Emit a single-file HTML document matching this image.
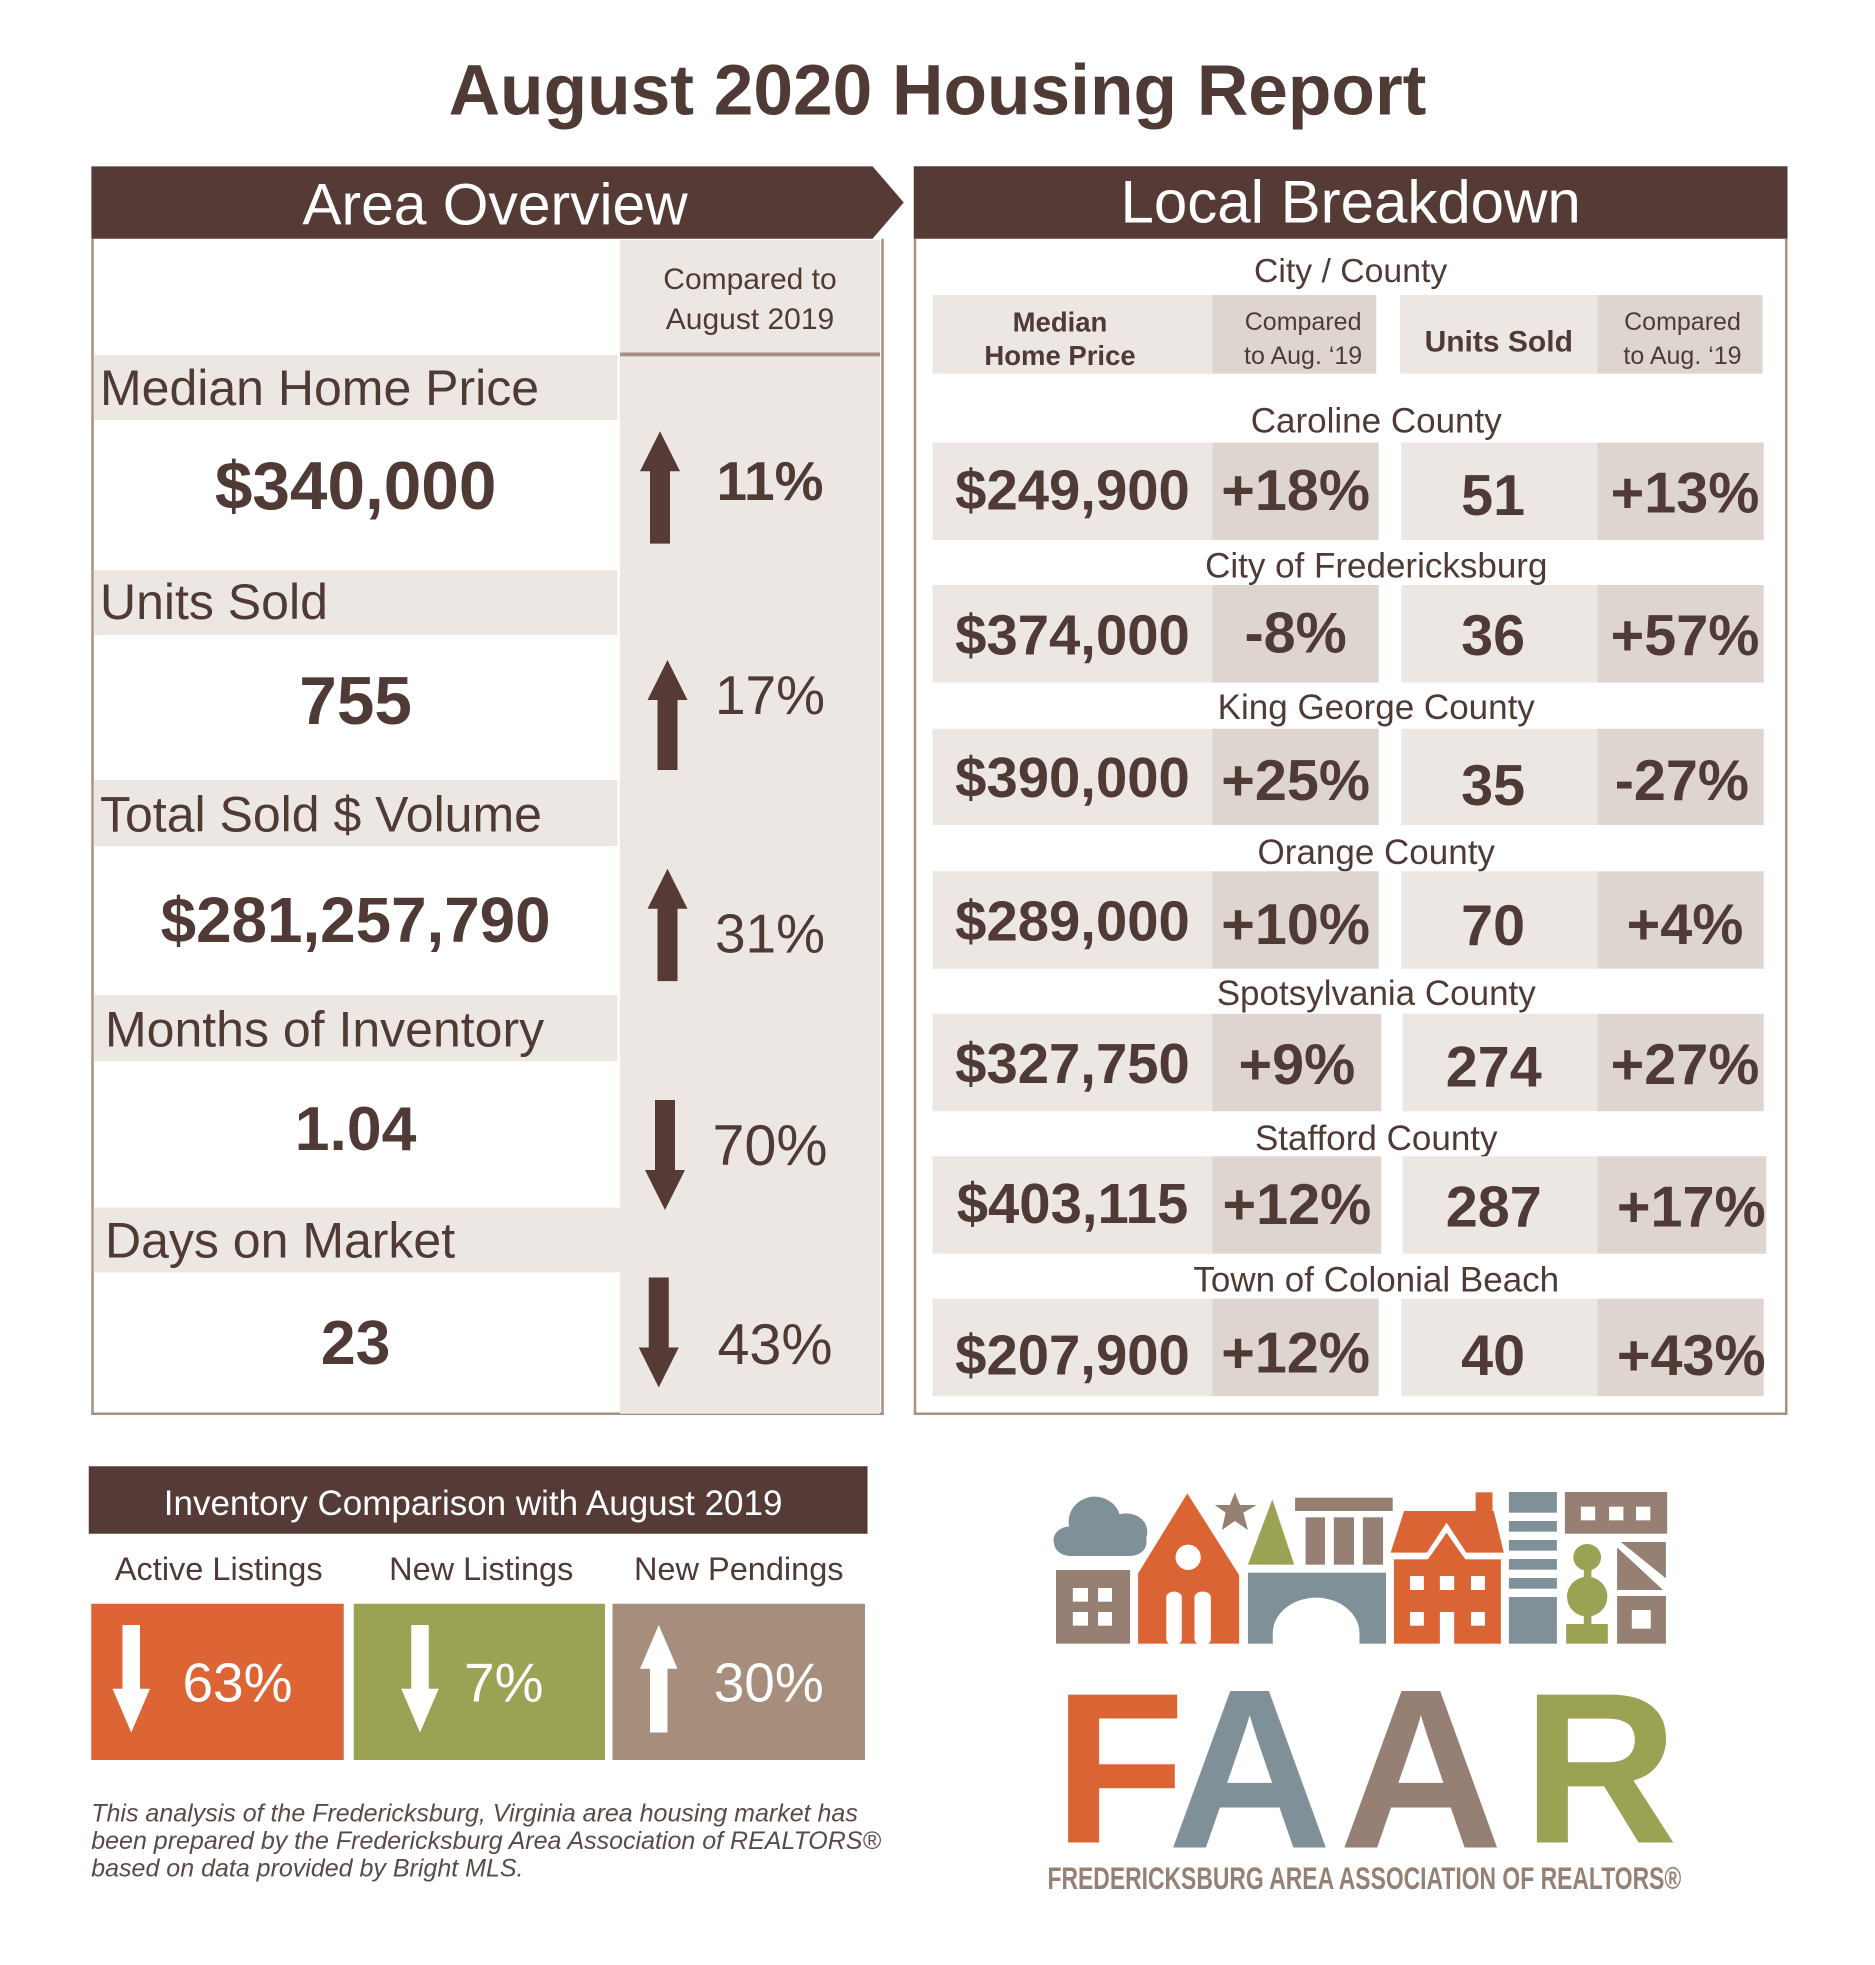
<!DOCTYPE html>
<html><head><meta charset="utf-8"><style>
html,body{margin:0;padding:0;background:#fff;}
body{width:1875px;height:1964px;overflow:hidden;position:relative;}
#w{position:absolute;left:0;top:0;width:1500px;height:1572px;transform:scale(1.25);transform-origin:0 0;font-family:"Liberation Sans",sans-serif;color:#4f3a36;}
#w div{position:absolute;}
.c{text-align:center;line-height:1;white-space:nowrap;transform:translateY(-50%);}
.l{line-height:1;white-space:nowrap;transform:translateY(-50%);}
.b{font-weight:bold;}
.band{background:#ede7e3;}
.dk{background:#dfd5d0;}
</style></head><body><div id="w">

<div class="c b" style="left:0;width:1500px;top:73px;font-size:57px;color:#4f3a36;">August 2020 Housing Report</div>

<!-- Left panel -->
<svg style="position:absolute;left:73px;top:133px" width="652" height="59"><polygon points="0,0 625,0 650,29 625,58 0,58" fill="#553a36"/></svg>
<div class="c" style="left:73px;width:646px;top:163px;font-size:47px;color:#fff;">Area Overview</div>
<div style="left:73px;top:191px;width:630px;height:939px;border:2px solid #a88f80;border-top:none;"></div>
<div class="band" style="left:496px;top:192px;width:208px;height:939px;"></div>
<div style="left:496px;top:282px;width:208px;height:3px;background:#a88f80;"></div>
<div class="c" style="left:496px;width:208px;top:224px;font-size:24px;">Compared to</div>
<div class="c" style="left:496px;width:208px;top:256px;font-size:24px;">August 2019</div>

<div class="band" style="left:75px;top:284px;width:419px;height:52px;"></div>
<div class="l" style="left:80px;top:311px;font-size:40px;">Median Home Price</div>
<div class="c b" style="left:75px;width:419px;top:389px;font-size:54px;">$340,000</div>

<div class="band" style="left:75px;top:456px;width:419px;height:52px;"></div>
<div class="l" style="left:80px;top:482px;font-size:40px;">Units Sold</div>
<div class="c b" style="left:75px;width:419px;top:561px;font-size:54px;">755</div>

<div class="band" style="left:75px;top:624px;width:419px;height:53px;"></div>
<div class="l" style="left:80px;top:652px;font-size:40px;">Total Sold $ Volume</div>
<div class="c b" style="left:75px;width:419px;top:736px;font-size:51px;">$281,257,790</div>

<div class="band" style="left:75px;top:796px;width:419px;height:53px;"></div>
<div class="l" style="left:84px;top:824px;font-size:40px;">Months of Inventory</div>
<div class="c b" style="left:75px;width:419px;top:903px;font-size:50px;">1.04</div>

<div class="band" style="left:75px;top:966px;width:421px;height:52px;"></div>
<div class="l" style="left:84px;top:993px;font-size:40px;">Days on Market</div>
<div class="c b" style="left:75px;width:419px;top:1074px;font-size:50px;">23</div>

<svg style="position:absolute;left:510px;top:345px" width="36" height="90"><polygon points="18,0 34,32 26,32 26,90 10,90 10,32 2,32" fill="#553a36"/></svg>
<svg style="position:absolute;left:516px;top:528px" width="36" height="88"><polygon points="18,0 34,32 26,32 26,88 10,88 10,32 2,32" fill="#553a36"/></svg>
<svg style="position:absolute;left:516px;top:695px" width="36" height="90"><polygon points="18,0 34,32 26,32 26,90 10,90 10,32 2,32" fill="#553a36"/></svg>
<svg style="position:absolute;left:514px;top:880px" width="36" height="88"><polygon points="18,88 34,56 26,56 26,0 10,0 10,56 2,56" fill="#553a36"/></svg>
<svg style="position:absolute;left:509px;top:1022px" width="36" height="88"><polygon points="18,88 34,56 26,56 26,0 10,0 10,56 2,56" fill="#553a36"/></svg>

<div class="c b" style="left:556px;width:120px;top:386px;font-size:44px;">11%</div>
<div class="c" style="left:556px;width:120px;top:557px;font-size:44px;">17%</div>
<div class="c" style="left:556px;width:120px;top:748px;font-size:44px;">31%</div>
<div class="c" style="left:556px;width:120px;top:916px;font-size:46px;">70%</div>
<div class="c" style="left:560px;width:120px;top:1075px;font-size:46px;">43%</div>

<!-- Right panel -->
<div style="left:731px;top:133px;width:699px;height:58px;background:#553a36;"></div>
<div class="c" style="left:731px;width:699px;top:163px;font-size:48px;color:#fff;">Local Breakdown</div>
<div style="left:731px;top:191px;width:695px;height:939px;border:2px solid #a88f80;border-top:none;"></div>

<div class="c" style="left:731px;width:699px;top:217px;font-size:27px;">City / County</div>
<div class="band" style="left:746px;top:236px;width:224px;height:63px;"></div>
<div class="dk" style="left:970px;top:236px;width:131px;height:63px;"></div>
<div class="band" style="left:1120px;top:236px;width:158px;height:63px;"></div>
<div class="dk" style="left:1278px;top:236px;width:132px;height:63px;"></div>
<div class="c b" style="left:746px;width:204px;top:258px;font-size:22px;">Median</div>
<div class="c b" style="left:746px;width:204px;top:285px;font-size:22px;">Home Price</div>
<div class="c" style="left:970px;width:145px;top:258px;font-size:20px;">Compared</div>
<div class="c" style="left:970px;width:145px;top:285px;font-size:20px;">to Aug. ‘19</div>
<div class="c b" style="left:1120px;width:158px;top:274px;font-size:24px;">Units Sold</div>
<div class="c" style="left:1278px;width:136px;top:258px;font-size:20px;">Compared</div>
<div class="c" style="left:1278px;width:136px;top:285px;font-size:20px;">to Aug. ‘19</div>

<!-- rows -->
<div class="c" style="left:731px;width:740px;top:337px;font-size:28px;">Caroline County</div>
<div class="band" style="left:746px;top:354px;width:224px;height:78px;"></div><div class="dk" style="left:970px;top:354px;width:133px;height:78px;"></div><div class="band" style="left:1121px;top:354px;width:157px;height:78px;"></div><div class="dk" style="left:1278px;top:354px;width:133px;height:78px;"></div>
<div class="c b" style="left:746px;width:224px;top:392px;font-size:45px;">$249,900</div><div class="c b" style="left:970px;width:133px;top:392px;font-size:46px;">+18%</div><div class="c b" style="left:1121px;width:147px;top:396px;font-size:46px;">51</div><div class="c b" style="left:1278px;width:140px;top:394px;font-size:46px;">+13%</div>

<div class="c" style="left:731px;width:740px;top:453px;font-size:28px;">City of Fredericksburg</div>
<div class="band" style="left:746px;top:468px;width:224px;height:78px;"></div><div class="dk" style="left:970px;top:468px;width:133px;height:78px;"></div><div class="band" style="left:1121px;top:468px;width:157px;height:78px;"></div><div class="dk" style="left:1278px;top:468px;width:133px;height:78px;"></div>
<div class="c b" style="left:746px;width:224px;top:508px;font-size:45px;">$374,000</div><div class="c b" style="left:970px;width:133px;top:506px;font-size:46px;">-8%</div><div class="c b" style="left:1121px;width:147px;top:508px;font-size:46px;">36</div><div class="c b" style="left:1278px;width:140px;top:508px;font-size:46px;">+57%</div>

<div class="c" style="left:731px;width:740px;top:566px;font-size:28px;">King George County</div>
<div class="band" style="left:746px;top:583px;width:224px;height:77px;"></div><div class="dk" style="left:970px;top:583px;width:133px;height:77px;"></div><div class="band" style="left:1121px;top:583px;width:157px;height:77px;"></div><div class="dk" style="left:1278px;top:583px;width:133px;height:77px;"></div>
<div class="c b" style="left:746px;width:224px;top:622px;font-size:45px;">$390,000</div><div class="c b" style="left:970px;width:133px;top:624px;font-size:46px;">+25%</div><div class="c b" style="left:1121px;width:147px;top:628px;font-size:46px;">35</div><div class="c b" style="left:1278px;width:135px;top:624px;font-size:46px;">-27%</div>

<div class="c" style="left:731px;width:740px;top:682px;font-size:28px;">Orange County</div>
<div class="band" style="left:746px;top:697px;width:224px;height:78px;"></div><div class="dk" style="left:970px;top:697px;width:133px;height:78px;"></div><div class="band" style="left:1121px;top:697px;width:157px;height:78px;"></div><div class="dk" style="left:1278px;top:697px;width:133px;height:78px;"></div>
<div class="c b" style="left:746px;width:224px;top:737px;font-size:45px;">$289,000</div><div class="c b" style="left:970px;width:133px;top:739px;font-size:46px;">+10%</div><div class="c b" style="left:1121px;width:147px;top:740px;font-size:46px;">70</div><div class="c b" style="left:1278px;width:140px;top:739px;font-size:46px;">+4%</div>

<div class="c" style="left:731px;width:740px;top:795px;font-size:28px;">Spotsylvania County</div>
<div class="band" style="left:746px;top:811px;width:224px;height:78px;"></div><div class="dk" style="left:970px;top:811px;width:135px;height:78px;"></div><div class="band" style="left:1122px;top:811px;width:156px;height:78px;"></div><div class="dk" style="left:1278px;top:811px;width:133px;height:78px;"></div>
<div class="c b" style="left:746px;width:224px;top:851px;font-size:45px;">$327,750</div><div class="c b" style="left:970px;width:135px;top:851px;font-size:46px;">+9%</div><div class="c b" style="left:1122px;width:146px;top:853px;font-size:46px;">274</div><div class="c b" style="left:1278px;width:140px;top:851px;font-size:46px;">+27%</div>

<div class="c" style="left:731px;width:740px;top:911px;font-size:28px;">Stafford County</div>
<div class="band" style="left:746px;top:925px;width:224px;height:78px;"></div><div class="dk" style="left:970px;top:925px;width:135px;height:78px;"></div><div class="band" style="left:1122px;top:925px;width:156px;height:78px;"></div><div class="dk" style="left:1278px;top:925px;width:135px;height:78px;"></div>
<div class="c b" style="left:746px;width:224px;top:963px;font-size:45px;">$403,115</div><div class="c b" style="left:970px;width:135px;top:963px;font-size:46px;">+12%</div><div class="c b" style="left:1122px;width:146px;top:965px;font-size:46px;">287</div><div class="c b" style="left:1278px;width:150px;top:965px;font-size:46px;">+17%</div>

<div class="c" style="left:731px;width:740px;top:1024px;font-size:28px;">Town of Colonial Beach</div>
<div class="band" style="left:746px;top:1039px;width:224px;height:78px;"></div><div class="dk" style="left:970px;top:1039px;width:133px;height:78px;"></div><div class="band" style="left:1121px;top:1039px;width:157px;height:78px;"></div><div class="dk" style="left:1278px;top:1039px;width:133px;height:78px;"></div>
<div class="c b" style="left:746px;width:224px;top:1084px;font-size:45px;">$207,900</div><div class="c b" style="left:970px;width:133px;top:1082px;font-size:46px;">+12%</div><div class="c b" style="left:1121px;width:147px;top:1084px;font-size:46px;">40</div><div class="c b" style="left:1278px;width:150px;top:1084px;font-size:46px;">+43%</div>

<!-- Inventory -->
<div style="left:71px;top:1173px;width:623px;height:54px;background:#553a36;"></div>
<div class="c" style="left:71px;width:615px;top:1203px;font-size:28px;color:#fff;">Inventory Comparison with August 2019</div>
<div class="c" style="left:73px;width:204px;top:1255px;font-size:26px;">Active Listings</div>
<div class="c" style="left:283px;width:204px;top:1255px;font-size:26px;">New Listings</div>
<div class="c" style="left:490px;width:202px;top:1255px;font-size:26px;">New Pendings</div>
<div style="left:73px;top:1283px;width:202px;height:125px;background:#dd6435;"></div>
<div style="left:283px;top:1283px;width:201px;height:125px;background:#9ca253;"></div>
<div style="left:490px;top:1283px;width:202px;height:125px;background:#a68d7c;"></div>
<svg style="position:absolute;left:89px;top:1300px" width="32" height="86"><polygon points="16,86 31,51 23,51 23,0 9,0 9,51 1,51" fill="#fff"/></svg>
<svg style="position:absolute;left:320px;top:1300px" width="32" height="86"><polygon points="16,86 31,51 23,51 23,0 9,0 9,51 1,51" fill="#fff"/></svg>
<svg style="position:absolute;left:511px;top:1300px" width="32" height="86"><polygon points="16,0 31,35 23,35 23,86 9,86 9,35 1,35" fill="#fff"/></svg>
<div class="c" style="left:135px;width:110px;top:1347px;font-size:44px;color:#fff;">63%</div>
<div class="c" style="left:348px;width:110px;top:1347px;font-size:44px;color:#fff;">7%</div>
<div class="c" style="left:555px;width:120px;top:1347px;font-size:44px;color:#fff;">30%</div>

<div style="left:73px;top:1440px;font-size:20px;font-style:italic;color:#5a4a46;line-height:22px;white-space:nowrap;">This analysis of the Fredericksburg, Virginia area housing market has<br>been prepared by the Fredericksburg Area Association of REALTORS®<br>based on data provided by Bright MLS.</div>

<!-- Logo -->
<svg style="position:absolute;left:832px;top:1168px" width="528" height="352" viewBox="0 0 1568 1320" preserveAspectRatio="none">
<g fill="#7f9098">
<rect x="33" y="200" width="220" height="88" rx="40"/><ellipse cx="130" cy="185" rx="62" ry="75"/><ellipse cx="205" cy="215" rx="50" ry="55"/><ellipse cx="70" cy="240" rx="38" ry="40"/>
<rect x="494" y="338" width="328" height="213"/>
<rect x="1114" y="96" width="114" height="62"/><rect x="1114" y="183" width="114" height="32"/><rect x="1114" y="240" width="114" height="32"/><rect x="1114" y="297" width="114" height="32"/><rect x="1114" y="354" width="114" height="32"/><rect x="1114" y="411" width="114" height="140"/>
</g>
<ellipse cx="656" cy="520" rx="103" ry="107" fill="#fff"/><rect x="553" y="520" width="206" height="32" fill="#fff"/>
<g fill="#958073">
<rect x="38" y="330" width="176" height="221"/>
<polygon points="463,97 475,135 515,135 483,158 494,210 463,183 432,210 441,158 415,135 451,135"/>
<rect x="606" y="113" width="232" height="40"/><rect x="631" y="172" width="46" height="142"/><rect x="698" y="172" width="48" height="142"/><rect x="767" y="172" width="48" height="142"/>
<rect x="1247" y="96" width="243" height="125"/>
<polygon points="1380,246 1487,246 1487,355"/><polygon points="1371,262 1371,390 1480,390"/>
<rect x="1371" y="408" width="116" height="143"/>
</g>
<g fill="#fff">
<rect x="78" y="384" width="36" height="41"/><rect x="138" y="384" width="33" height="41"/><rect x="78" y="456" width="36" height="41"/><rect x="138" y="456" width="33" height="41"/>
<rect x="1285" y="140" width="34" height="41"/><rect x="1352" y="140" width="34" height="41"/><rect x="1416" y="140" width="34" height="41"/>
<rect x="1406" y="450" width="45" height="56"/>
</g>
<g fill="#db6435">
<polygon points="233,340 350,100 473,345 473,551 233,551"/>
<rect x="1035" y="97" width="40" height="90"/>
<polygon points="833,278 865,153 1078,153 1102,278"/>
<rect x="841" y="298" width="254" height="253"/>
</g>
<polygon points="918,280 966,188 1014,280 1000,280 966,218 932,280" fill="#fff"/>
<polygon points="920,300 966,222 1012,300" fill="#db6435"/>
<g fill="#fff">
<ellipse cx="352" cy="292" rx="30" ry="38"/>
<rect x="300" y="395" width="37" height="160" rx="18"/><rect x="367" y="395" width="39" height="160" rx="18"/>
<rect x="879" y="348" width="33" height="42"/><rect x="950" y="348" width="34" height="42"/><rect x="1024" y="348" width="33" height="42"/>
<rect x="879" y="456" width="33" height="41"/><rect x="950" y="456" width="34" height="96"/><rect x="1024" y="456" width="33" height="41"/>
</g>
<g fill="#9ca253">
<polygon points="494,314 552,118 604,314"/>
<ellipse cx="1300" cy="292" rx="33" ry="40"/><rect x="1292" y="320" width="18" height="45"/><ellipse cx="1300" cy="410" rx="48" ry="60"/><rect x="1292" y="465" width="18" height="30"/><rect x="1250" y="492" width="99" height="59"/>
</g>
</svg>
<div style="left:843px;top:1328px;font-size:172px;line-height:174px;font-weight:bold;color:#db6435;">F</div>
<div style="left:934px;top:1328px;font-size:182px;line-height:174px;font-weight:bold;color:#7f9098;">A</div>
<div style="left:1071px;top:1328px;font-size:182px;line-height:174px;font-weight:bold;color:#958073;">A</div>
<div style="left:1218px;top:1328px;font-size:172px;line-height:174px;font-weight:bold;color:#9ca253;">R</div>
<svg style="position:absolute;left:838px;top:1486px" width="520" height="30"><text x="0" y="25" font-family="Liberation Sans, sans-serif" font-weight="bold" font-size="25" fill="#958073" textLength="507" lengthAdjust="spacingAndGlyphs">FREDERICKSBURG AREA ASSOCIATION OF REALTORS®</text></svg>

</div></body></html>
